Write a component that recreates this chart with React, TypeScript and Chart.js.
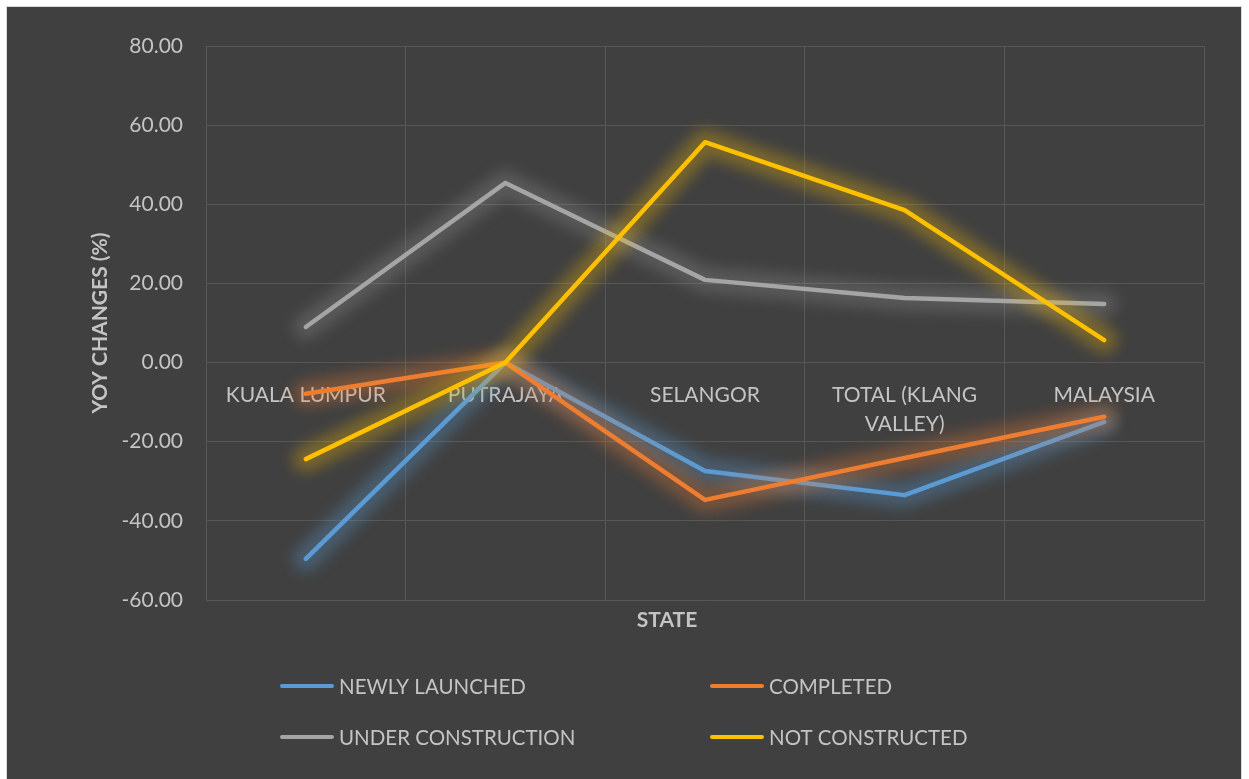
import React, { useEffect, useRef } from 'react';
import { Chart, registerables } from 'chart.js';

Chart.register(...registerables);

const categories: (string | string[])[] = ['KUALA LUMPUR', 'PUTRAJAYA', 'SELANGOR', ['TOTAL (KLANG', 'VALLEY)'], 'MALAYSIA'];
const newlyLaunched = [-49.6, 0, -27.4, -33.5, -15.0];
const completed = [-7.9, 0, -34.7, -24.1, -13.7];
const underConstruction = [9.0, 45.4, 20.9, 16.3, 14.8];
const notConstructed = [-24.4, 0, 55.7, 38.5, 5.7];
const seriesNames = ['NEWLY LAUNCHED', 'COMPLETED', 'UNDER CONSTRUCTION', 'NOT CONSTRUCTED'];
const yMin = -60;
const yMax = 80;
const yStep = 20;

const FONT = 'Lato';
const TEXT = '#C4C4C4';
const GRID = '#575757';
const BG = '#404040';
const COLORS = ['#5B9BD5', '#ED7D31', '#A5A5A5', '#FFC000'];
const GLOWS = ['rgba(91,155,213,0.32)', 'rgba(237,125,49,0.32)', 'rgba(165,165,165,0.25)', 'rgba(255,192,0,0.3)'];

const glowPlugin = {
  id: 'glow',
  beforeDatasetDraw(chart: any, args: any) {
    const ctx = chart.ctx;
    const meta = chart.getDatasetMeta(args.index);
    ctx.save();
    ctx.filter = 'blur(7px)';
    ctx.strokeStyle = GLOWS[args.index];
    ctx.lineWidth = 26;
    ctx.lineJoin = 'round';
    ctx.lineCap = 'round';
    ctx.beginPath();
    meta.data.forEach((p: any, j: number) => {
      if (j === 0) ctx.moveTo(p.x, p.y);
      else ctx.lineTo(p.x, p.y);
    });
    ctx.stroke();
    ctx.restore();
  },
};

const extrasPlugin = {
  id: 'extras',
  afterDraw(chart: any) {
    const ctx = chart.ctx;
    ctx.save();
    ctx.fillStyle = TEXT;
    ctx.font = `bold 21px ${FONT}`;
    ctx.textAlign = 'center';
    ctx.textBaseline = 'middle';
    ctx.fillText('STATE', 660, 613);
    const cols = [273, 703];
    const rows = [679, 730];
    ctx.font = `20.5px ${FONT}`;
    ctx.textAlign = 'left';
    chart.data.datasets.forEach((ds: any, i: number) => {
      const x = cols[i % 2];
      const y = rows[Math.floor(i / 2)];
      ctx.strokeStyle = ds.borderColor;
      ctx.lineWidth = 4;
      ctx.lineCap = 'round';
      ctx.beginPath();
      ctx.moveTo(x + 2, y);
      ctx.lineTo(x + 52, y);
      ctx.stroke();
      ctx.fillStyle = TEXT;
      ctx.fillText(ds.label, x + 59, y + 1);
    });
    ctx.restore();
  },
};

export default function App() {
  const ref = useRef<HTMLCanvasElement>(null);
  useEffect(() => {
    if (!ref.current) return;
    const seriesValues = [newlyLaunched, completed, underConstruction, notConstructed];
    const chart = new Chart(ref.current, {
      type: 'line',
      data: {
        labels: categories as any,
        datasets: seriesValues.map((d, i) => ({
          label: seriesNames[i],
          data: d,
          borderColor: COLORS[i],
          backgroundColor: COLORS[i],
          borderWidth: 4.5,
          pointRadius: 0,
          tension: 0,
          fill: false,
          order: 4 - i,
          borderCapStyle: 'round',
          borderJoinStyle: 'round',
        })),
      },
      options: {
        animation: false,
        responsive: true,
        maintainAspectRatio: false,
        layout: { padding: { left: 0, top: 39, right: 37, bottom: 0 } },
        plugins: { legend: { display: false }, tooltip: { enabled: false } },
        font: { family: FONT },
        scales: {
          x: {
            offset: true,
            grid: { color: GRID, offset: true, drawTicks: false, lineWidth: 1 },
            border: { color: GRID },
            ticks: { display: false },
            afterFit(s: any) { s.height = 179; },
          },
          x2: {
            type: 'category',
            position: { y: 0 } as any,
            offset: true,
            grid: { display: false, drawTicks: false },
            border: { display: false },
            ticks: {
              color: TEXT,
              font: { family: FONT, size: 21, lineHeight: 1.4 },
              padding: 18,
              maxRotation: 0,
              autoSkip: false,
            },
          },
          y: {
            min: yMin,
            max: yMax,
            grid: { color: GRID, drawTicks: false },
            border: { color: GRID },
            ticks: {
              stepSize: yStep,
              color: TEXT,
              font: { family: FONT, size: 21 },
              padding: 23,
              callback: (v: any) => Number(v).toFixed(2),
            },
            title: {
              display: true,
              text: 'YOY CHANGES (%)',
              color: TEXT,
              font: { family: FONT, size: 21, weight: 'bold' },
              padding: { top: 81, bottom: 0 },
            },
            afterFit(s: any) { s.width = 199; },
          },
        },
      } as any,
      plugins: [glowPlugin, extrasPlugin],
    });
    return () => chart.destroy();
  }, []);

  return (
    <>
      <style>{'html,body{margin:0;padding:0;overflow:hidden;background:#fff;}'}</style>
      <div
        style={{
          position: 'relative',
          width: 1234,
          height: 772,
          marginLeft: 6,
          marginTop: 6,
          background: BG,
          borderTop: '1px solid #d9d9d9',
          borderLeft: '1px solid #d9d9d9',
          borderRight: '1px solid #d9d9d9',
        }}
      >
        <canvas ref={ref} />
      </div>
    </>
  );
}
